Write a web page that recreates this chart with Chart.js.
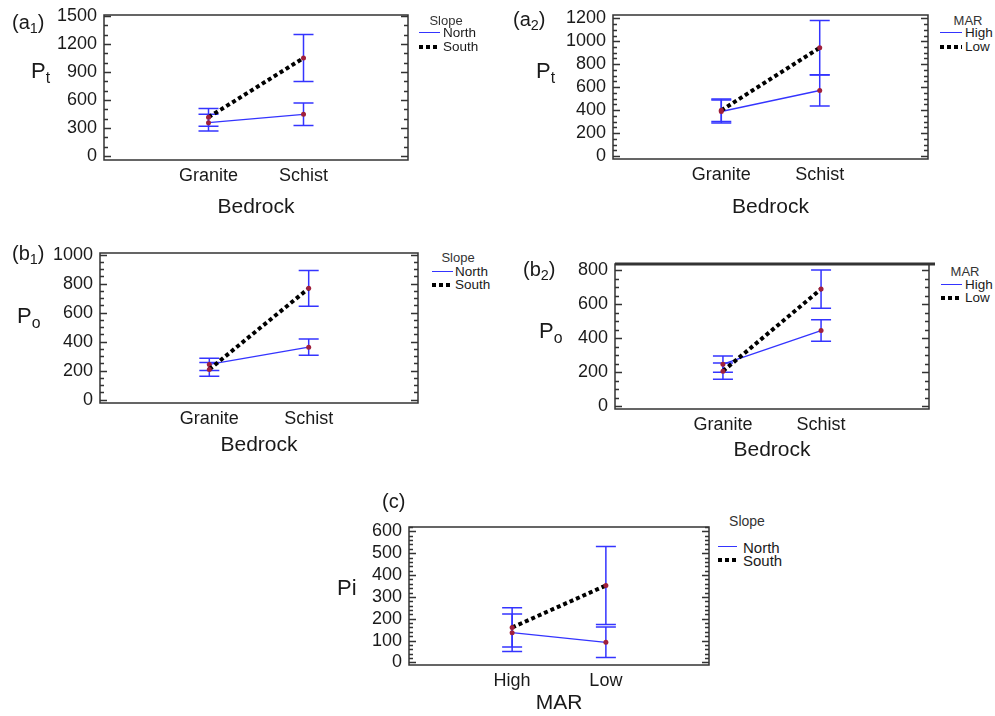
<!DOCTYPE html>
<html>
<head>
<meta charset="utf-8">
<script src="https://cdn.jsdelivr.net/npm/chart.js@4"></script>
<style>
  body { margin: 0; background: #fff; font-family: "Liberation Sans", Arial, sans-serif; }
  #wrap { position: relative; width: 995px; height: 716px; overflow: hidden; }
  #wrap canvas { position: absolute; }
  .t { position: absolute; color: #1a1a1a; white-space: nowrap; line-height: 1; }
  .t sub { font-size: 0.72em; vertical-align: -0.3em; }
  .tag { font-size: 20px; }
  .ytl { font-size: 22px; }
  .lt { color: #333; transform: translateX(-50%); }
  .sw { position: absolute; }
  .solid { height: 0; border-top: 1.5px solid #3434ff; }
  .dots { height: 4px; background: repeating-linear-gradient(90deg, #000 0 4px, transparent 4px 7px); }
</style>
</head>
<body>
<div id="wrap"></div>
<script>
// categories
const bedrock = ['Granite', 'Schist'];
const marLevels = ['High', 'Low'];

// (a1) Pt, bedrock x slope
const a1North = [357, 447];
const a1NorthErr = [90, 120];
const a1South = [415, 1050];
const a1SouthErr = [95, 253];
const a1Ticks = [0, 300, 600, 900, 1200, 1500];

// (a2) Pt, bedrock x MAR
const a2High = [388, 571];
const a2HighErr = [100, 135];
const a2Low = [398, 944];
const a2LowErr = [98, 236];
const a2Ticks = [0, 200, 400, 600, 800, 1000, 1200];

// (b1) Po, bedrock x slope
const b1North = [243, 362];
const b1NorthErr = [42, 56];
const b1South = [209, 768];
const b1SouthErr = [48, 124];
const b1Ticks = [0, 200, 400, 600, 800, 1000];

// (b2) Po, bedrock x MAR
const b2High = [248, 445];
const b2HighErr = [47, 63];
const b2Low = [207, 688];
const b2LowErr = [47, 112];
const b2Ticks = [0, 200, 400, 600, 800];

// (c) Pi, MAR x slope
const cNorth = [136, 92];
const cNorthErr = [86, 70];
const cSouth = [160, 352];
const cSouthErr = [90, 179];
const cTicks = [0, 100, 200, 300, 400, 500, 600];

Chart.defaults.font.family = '"Liberation Sans", Arial, sans-serif';
Chart.defaults.color = '#1a1a1a';

const errorBars = {
  id: 'errorBars',
  beforeDatasetsDraw(chart) {
    const { ctx, scales: { x, y } } = chart;
    ctx.save();
    ctx.strokeStyle = '#3434ff';
    ctx.lineWidth = 1.5;
    chart.data.datasets.forEach(ds => {
      ds.data.forEach((pt, i) => {
        const e = ds.errors[i];
        const px = x.getPixelForValue(pt.x);
        const top = y.getPixelForValue(pt.y + e);
        const bot = y.getPixelForValue(pt.y - e);
        ctx.beginPath();
        ctx.moveTo(px, top); ctx.lineTo(px, bot);
        ctx.moveTo(px - 10, top); ctx.lineTo(px + 10, top);
        ctx.moveTo(px - 10, bot); ctx.lineTo(px + 10, bot);
        ctx.stroke();
      });
    });
    ctx.restore();
  }
};

// box round the plot area, with inward ticks on both sides
const frame = {
  id: 'frame',
  afterDraw(chart, args, opts) {
    const { ctx, chartArea: a, scales: { y } } = chart;
    ctx.save();
    ctx.strokeStyle = '#333';
    ctx.lineWidth = 1.5;
    ctx.strokeRect(a.left, a.top, a.right - a.left, a.bottom - a.top);
    ctx.beginPath();
    const start = Math.ceil(y.min / opts.minor) * opts.minor;
    for (let v = start; v <= y.max; v += opts.minor) {
      const py = Math.round(y.getPixelForValue(v)) + 0.5;
      const len = (v % opts.major === 0) ? 7 : 4;
      ctx.moveTo(a.left, py); ctx.lineTo(a.left + len, py);
      ctx.moveTo(a.right, py); ctx.lineTo(a.right - len, py);
    }
    ctx.stroke();
    if (opts.heavyTop) {
      ctx.lineWidth = 3;
      ctx.beginPath();
      ctx.moveTo(a.left, a.top); ctx.lineTo(a.right + 6, a.top);
      ctx.stroke();
    }
    ctx.restore();
  }
};

const wrap = document.getElementById('wrap');

function makePanel(p) {
  const W = 70, PT = 24, PR = 8;
  const axisH = p.titleOff + 13;
  const cv = document.createElement('canvas');
  cv.width = W + p.box.w + PR;
  cv.height = PT + p.box.h + axisH;
  cv.style.left = (p.box.x - W) + 'px';
  cv.style.top = (p.box.y - PT) + 'px';
  wrap.appendChild(cv);
  const xs = [1, 2];
  new Chart(cv, {
    type: 'line',
    data: {
      datasets: [
        {
          label: p.names[0],
          data: xs.map((x, i) => ({ x: x, y: p.first[i] })),
          errors: p.firstErr,
          borderColor: '#3434ff',
          borderWidth: 1.3,
          pointRadius: 2.5,
          pointBackgroundColor: '#a0203c',
          pointBorderWidth: 0,
          order: 1
        },
        {
          label: p.names[1],
          data: xs.map((x, i) => ({ x: x, y: p.second[i] })),
          errors: p.secondErr,
          borderColor: '#000',
          borderWidth: 4,
          borderDash: [4, 3],
          pointRadius: 2.5,
          pointBackgroundColor: '#a0203c',
          pointBorderWidth: 0,
          order: 0
        }
      ]
    },
    options: {
      responsive: false,
      animation: false,
      devicePixelRatio: 1,
      layout: { padding: { top: PT, right: PR, left: 0, bottom: 0 } },
      plugins: {
        legend: { display: false },
        tooltip: { enabled: false },
        frame: { minor: p.minor, major: p.major, heavyTop: !!p.heavyTop }
      },
      scales: {
        x: {
          type: 'linear',
          min: -0.1,
          max: 3.1,
          afterBuildTicks: s => { s.ticks = xs.map(v => ({ value: v })); },
          afterFit: s => { s.height = axisH; },
          grid: { display: false, drawTicks: false },
          border: { display: false },
          ticks: {
            padding: 5,
            autoSkip: false,
            font: { size: 18 },
            callback: v => p.cats[v - 1]
          },
          title: {
            display: true,
            text: p.xTitle,
            font: { size: 21 },
            padding: { top: 0, bottom: 0 }
          }
        },
        y: {
          min: p.yMin,
          max: p.yMax,
          afterBuildTicks: s => { s.ticks = p.yTicks.map(v => ({ value: v })); },
          afterFit: s => { s.width = W; },
          grid: { display: false, drawTicks: false },
          border: { display: false },
          ticks: { padding: 7, autoSkip: false, font: { size: 18 }, callback: v => String(v) }
        }
      }
    },
    plugins: [errorBars, frame]
  });
}

function addText(cls, html, left, cy, size) {
  const d = document.createElement('div');
  d.className = 't ' + cls;
  d.innerHTML = html;
  d.style.left = left + 'px';
  d.style.top = (cy - size / 2) + 'px';
  d.style.fontSize = size + 'px';
  wrap.appendChild(d);
}

function addLegend(title, names, lg) {
  addText('lt', title, lg.cx, lg.ty, lg.tSize);
  [lg.y1, lg.y2].forEach((yy, i) => {
    const s = document.createElement('div');
    s.className = 'sw ' + (i === 0 ? 'solid' : 'dots');
    s.style.left = lg.x1 + 'px';
    s.style.width = (lg.x2 - lg.x1) + 'px';
    s.style.top = (yy - (i === 0 ? 0.75 : 2)) + 'px';
    wrap.appendChild(s);
    addText('li', names[i], lg.tx, yy, lg.iSize);
  });
}

makePanel({ box: { x: 104, y: 15, w: 304, h: 145 }, yMin: -43, yMax: 1511, yTicks: a1Ticks,
  minor: 100, major: 300, cats: bedrock, xTitle: 'Bedrock', titleOff: 47,
  names: ['North', 'South'], first: a1North, firstErr: a1NorthErr, second: a1South, secondErr: a1SouthErr });
makePanel({ box: { x: 613, y: 15, w: 315, h: 144 }, yMin: -26, yMax: 1229, yTicks: a2Ticks,
  minor: 50, major: 200, cats: bedrock, xTitle: 'Bedrock', titleOff: 48,
  names: ['High', 'Low'], first: a2High, firstErr: a2HighErr, second: a2Low, secondErr: a2LowErr });
makePanel({ box: { x: 100, y: 253, w: 318, h: 150 }, yMin: -23, yMax: 1012, yTicks: b1Ticks,
  minor: 50, major: 200, cats: bedrock, xTitle: 'Bedrock', titleOff: 42,
  names: ['North', 'South'], first: b1North, firstErr: b1NorthErr, second: b1South, secondErr: b1SouthErr });
makePanel({ box: { x: 615, y: 264, w: 314, h: 145 }, yMin: -15, yMax: 835, yTicks: b2Ticks,
  minor: 50, major: 200, cats: bedrock, xTitle: 'Bedrock', titleOff: 41, heavyTop: true,
  names: ['High', 'Low'], first: b2High, firstErr: b2HighErr, second: b2Low, secondErr: b2LowErr });
makePanel({ box: { x: 409, y: 527, w: 300, h: 138 }, yMin: -12, yMax: 620, yTicks: cTicks,
  minor: 20, major: 100, cats: marLevels, xTitle: 'MAR', titleOff: 38,
  names: ['North', 'South'], first: cNorth, firstErr: cNorthErr, second: cSouth, secondErr: cSouthErr });

// panel tags and y titles
addText('tag', '(a<sub>1</sub>)', 12, 22, 20);
addText('tag', '(a<sub>2</sub>)', 513, 19, 20);
addText('tag', '(b<sub>1</sub>)', 12, 253, 20);
addText('tag', '(b<sub>2</sub>)', 523, 269, 20);
addText('tag', '(c)', 382, 501, 20);
addText('ytl', 'P<sub>t</sub>', 31, 71, 22);
addText('ytl', 'P<sub>t</sub>', 536, 71, 22);
addText('ytl', 'P<sub>o</sub>', 17, 316, 22);
addText('ytl', 'P<sub>o</sub>', 539, 331, 22);
addText('ytl', 'Pi', 337, 588, 22);

// legends
addLegend('Slope', ['North', 'South'], { cx: 446, ty: 20, tSize: 13, x1: 419, x2: 440, tx: 443, y1: 33, y2: 47, iSize: 13.5 });
addLegend('MAR', ['High', 'Low'], { cx: 968, ty: 20, tSize: 13, x1: 940, x2: 962, tx: 965, y1: 33, y2: 47, iSize: 13.5 });
addLegend('Slope', ['North', 'South'], { cx: 458, ty: 257, tSize: 13, x1: 432, x2: 453, tx: 455, y1: 272, y2: 285, iSize: 13.5 });
addLegend('MAR', ['High', 'Low'], { cx: 965, ty: 271, tSize: 13, x1: 941, x2: 962, tx: 965, y1: 285, y2: 298, iSize: 13.5 });
addLegend('Slope', ['North', 'South'], { cx: 747, ty: 521, tSize: 14, x1: 718, x2: 737, tx: 743, y1: 547, y2: 560, iSize: 15 });
</script>
</body>
</html>
